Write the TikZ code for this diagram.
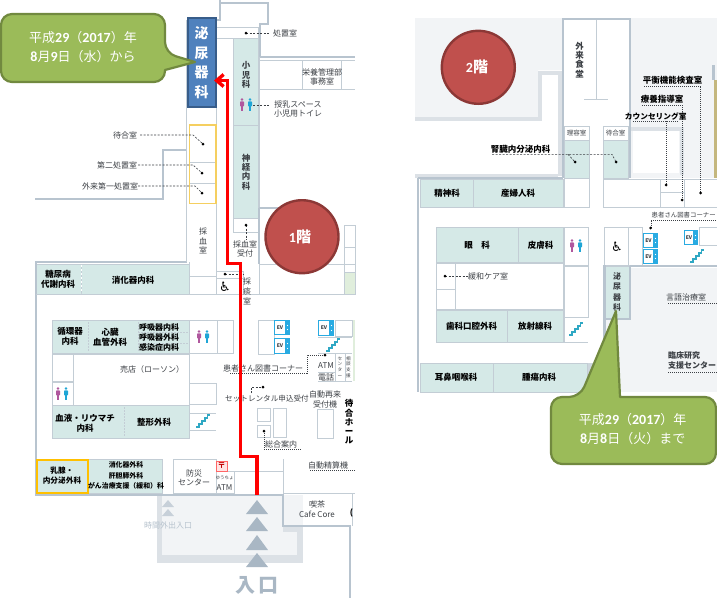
\documentclass[tikz,border=0pt]{standalone}
\usepackage{fontspec}
\setmainfont{Noto Sans CJK JP}
\newfontfamily\latfont{Carlito}
\newfontfamily\symfont{DejaVu Sans}
\usetikzlibrary{arrows.meta}
\definecolor{teal1}{HTML}{D5E9E7}
\definecolor{wallc}{HTML}{B8C4CF}
\definecolor{wallb}{HTML}{A9B7C4}
\definecolor{roomc}{HTML}{C3CDD5}
\definecolor{bandc}{HTML}{DCE1E6}
\definecolor{grayf}{HTML}{F2F4F6}
\definecolor{txtc}{HTML}{3C4045}
\definecolor{oliv}{HTML}{9BBB59}
\definecolor{olivd}{HTML}{71893F}
\definecolor{blu}{HTML}{4F81BD}
\definecolor{blud}{HTML}{385D8A}
\definecolor{rd}{HTML}{C0504D}
\definecolor{rdd}{HTML}{8C3836}
\definecolor{evc}{HTML}{29ABE2}
\definecolor{orng}{HTML}{FFC000}
\definecolor{orng2}{HTML}{F5CF60}
\definecolor{wm}{HTML}{B0589E}
\definecolor{mn}{HTML}{1FA6D6}
\definecolor{stc}{HTML}{2FA8C4}
\definecolor{grnr}{HTML}{E0EEDC}
\definecolor{khak}{HTML}{C4B77E}
\tikzset{
 x=1pt,y=-1pt,
 lab/.style={inner sep=0pt,align=center,text=txtc,font=\fontsize{8}{9.6}\selectfont},
 labb/.style={lab,text=black,font=\fontsize{8.5}{10}\bfseries\selectfont},
 vlab/.style={lab,font=\fontsize{8.5}{9.3}\bfseries\selectfont},
 room/.style={draw=roomc,line width=0.9pt},
 tealroom/.style={draw=roomc,line width=0.9pt,fill=teal1},
 wall/.style={draw=wallc,line width=2.8pt,line join=miter},
 band/.style={draw=bandc,line width=4pt},
 lead/.style={draw=txtc,line width=0.6pt,dash pattern=on 2pt off 1.5pt},
 dots/.style={draw=txtc,line width=0.6pt,dash pattern=on 1pt off 1pt},
 callout/.style={draw=olivd,line width=2.2pt,fill=oliv,line join=round},
 floorc/.style={draw=rdd,line width=2.4pt,fill=rd},
 whitelab/.style={inner sep=0pt,align=center,text=white,font=\fontsize{13}{19}\selectfont},
 tri/.style={fill=wallb,draw=none},
 trismall/.style={fill=wallb!65,draw=none}
}
\newcounter{nd}
\newcommand{\lb}[3]{\stepcounter{nd}\node[lab] (t\thend) at (#1,#2) {#3};}
\newcommand{\lbb}[3]{\stepcounter{nd}\node[labb] (t\thend) at (#1,#2) {#3};}
\newcommand{\vl}[3]{\stepcounter{nd}\node[vlab] (t\thend) at (#1,#2) {#3};}
\newcommand{\rbox}[4]{\draw[room] (#1,#2) rectangle (#3,#4);}
\newcommand{\tbox}[4]{\draw[tealroom] (#1,#2) rectangle (#3,#4);}
\newcommand{\dotp}[2]{\fill[black] (#1,#2) circle (1.5);}
\newcommand{\pers}[3]{\fill[#3] (#1,#2-5.5) circle (1.4);\fill[#3,rounded corners=0.8pt] (#1-2,#2-3.6) rectangle (#1+2,#2+1.5);\fill[#3] (#1-1.3,#2+1) rectangle (#1+1.3,#2+6);}
\newcommand{\toil}[2]{\pers{#1-4}{#2}{wm}\pers{#1+4}{#2}{mn}}
\newcommand{\ev}[4]{\fill[evc] (#1,#2) rectangle (#3,#4);\fill[white] (#1+1.3,#2+1.3) rectangle (#3-5,#4-1.3);
 \fill[white] (#3-2.5,#2+5.5) circle (0.7);\fill[white] (#3-2.5,#4-5.5) circle (0.7);
 \stepcounter{nd}\node[inner sep=0pt,text=txtc,font=\fontsize{5}{6}\bfseries\selectfont] (t\thend) at (#1/2+#3/2-2,#2/2+#4/2) {EV};}
\newcommand{\stair}[2]{\draw[stc,line width=1.3pt] (#1-7,#2+6)--(#1-4,#2+6)--(#1-4,#2+3)--(#1-1,#2+3)--(#1-1,#2)--(#1+2,#2)--(#1+2,#2-3)--(#1+4.5,#2-3)--(#1+4.5,#2-6)--(#1+7,#2-6);}
\newcommand{\wh}[2]{\stepcounter{nd}\node[inner sep=0pt,text=black,font=\symfont\fontsize{13}{13}\selectfont] (t\thend) at (#1,#2) {♿};}
\newcommand{\dg}[1]{{\latfont\fontsize{14}{14}\bfseries\selectfont #1}}
\begin{document}
\begin{tikzpicture}
\useasboundingbox (0,0) rectangle (717,598);
\fill[white] (0,0) rectangle (717,598);

%%% ---------- left panel: first floor ----------
% entrance forecourt
\fill[grayf] (157,495) rectangle (303,563);
\fill[bandc] (157,495) rectangle (162,563);
\fill[bandc] (157,555) rectangle (303,563);
\fill[bandc] (297,530) rectangle (303,563);
\fill[bandc] (283,526) rectangle (303,532);
% teal rooms
\tbox{36}{264}{81}{294}
\tbox{81}{264}{189}{294}
\draw[white,line width=1pt,dash pattern=on 2pt off 2pt] (81,265)--(81,293);
\tbox{233}{38}{258}{125}
\tbox{233}{125}{258}{218}
\tbox{52}{320}{189}{353}
\draw[roomc,line width=0.5pt,dash pattern=on 1.5pt off 1.5pt] (88,322)--(88,352) (138,322)--(138,352) (138,332)--(188,332) (138,343)--(188,343);
\tbox{52}{405}{189}{438}
\draw[roomc,line width=0.5pt,dash pattern=on 1.5pt off 1.5pt] (124,407)--(124,436);
\tbox{88}{459}{162}{493}
% walls top
\draw[wall] (220,0)--(220,3)--(268,3)--(268,24)--(260,24)--(260,57)--(355,57);
\draw[wall] (220,3)--(220,20)--(216,20);
\draw[wall] (35,199)--(163,199)--(163,150)--(187,150);
\draw[wall] (35,262)--(187,262);
\draw[room,line width=1.6pt] (186.5,20)--(186.5,262);
\draw[wall] (36,262)--(36,495);
\draw[room] (259,57)--(259,208);
\draw[wall] (259,208)--(259,264);
\draw[wall] (259,208)--(300,208);
\draw[wall] (35,495)--(283,495)--(283,526)--(350,526)--(350,598);
% rooms near corridor
\rbox{216}{27}{258}{38}
\draw[room] (216,27)--(216,294);
\draw[room] (233,218)--(233,232)--(258,232);
\draw[room] (189,276)--(216,276) (189,262)--(189,294);
\rbox{216}{271}{243}{294}
\draw[room] (216,278)--(243,278);
\draw[room] (36,294)--(259,294);
\draw[room] (259,60)--(355,60) (259,89)--(355,89) (302,60)--(302,89) (341,60)--(341,89);
\rbox{259}{264}{355}{294}
\rbox{344}{225}{355}{247}
\rbox{344}{247}{355}{272}
\draw[tealroom,fill=grnr] (344,272) rectangle (355,294);
% orange bordered rooms
\draw[draw=roomc,line width=0.8pt] (189.5,162)--(216,162) (189.5,183)--(216,183);
\draw[draw=orng2,line width=1.2pt] (189.5,125) rectangle (216,203.5);
% lower block
\rbox{189}{320}{217}{353}
\rbox{217}{320}{233}{353}
\rbox{52}{354}{189}{405}
\rbox{52}{354}{73}{381}
\rbox{52}{382}{73}{405}
\rbox{189}{383}{216}{404}
\draw[room] (189,413)--(216,413) (189,430)--(216,430);
\rbox{173}{459}{216}{493}
\rbox{216}{471}{234}{493}
\draw[room] (234,471)--(283,471) (283,459)--(283,493) (283,493)--(355,493) (352,493)--(352,526);
\draw[draw=red!60,line width=0.9pt,fill=red!10] (216,461) rectangle (227,471);
\stepcounter{nd}\node[inner sep=0pt,text=red!75!black,font=\fontsize{8}{8}\bfseries\selectfont] (t\thend) at (221.5,466) {〒};
\rbox{258}{320}{274}{354}
\ev{274}{320}{290}{335}
\ev{274}{338}{290}{354}
\rbox{335}{320}{352}{336}
\ev{318}{320}{334}{336}
\draw[room] (318,337)--(352,337) (318,353)--(352,353) (318,372)--(335,372) (318,381)--(352,381) (335,353)--(335,381) (345,353)--(345,381);
\fill[grnr] (352.5,320) rectangle (355,381);
\stair{333}{345}
\stair{203}{421}
\rbox{257}{408}{270}{421}
\rbox{257}{425}{270}{437}
\rbox{273}{408}{286}{437}
\rbox{317}{409}{333}{438}
% triangles
\foreach \ya/\yb in {500/514,517/531,535/550,553/567}{\fill[tri] (257,\ya)--(268,\yb)--(246,\yb)--cycle;}
\foreach \ya/\yb in {500/507,509/516}{\fill[trismall] (168,\ya)--(174,\yb)--(162,\yb)--cycle;}
% leaders
\draw[lead] (140,135)--(193,135)--(203,144);\dotp{203}{144}
\draw[lead] (138,165)--(193,165)--(202,173);\dotp{202}{173}
\draw[lead] (138,186)--(195,186)--(202,193);\dotp{202}{193}
\draw[lead] (246,33)--(270,33);\dotp{246}{33}
\draw[lead] (246,225)--(246,240);\dotp{246}{225}
\draw[lead] (225,274)--(243,274);\dotp{225}{274}
\draw[lead] (253,105)--(270,105);
\draw[dots] (230,373)--(307,373)--(307,355)--(325,355);\dotp{325}{355}
\draw[lead] (251,393)--(251,387)--(263,387);\dotp{263}{387}
\draw[dots] (264,431)--(264,449)--(302,449);\dotp{264}{431}
\draw[dots] (310,470)--(355,470);
\toil{246}{105}
\toil{203}{337}
\toil{62}{394}
\wh{225}{287}
\draw[draw=orng,line width=2pt,fill=teal1] (37,460) rectangle (88,493);
% labels
\lb{285}{33}{処置室}
\lb{322}{77}{栄養管理部\\事務室}
\lb{298}{109}{授乳スペース\\小児用トイレ}
\lb{125}{135}{待合室}
\lb{117}{165}{第二処置室}
\lb{110}{186}{外来第一処置室}
\vl{246}{75}{小\\児\\科}
\vl{246}{172}{神\\経\\内\\科}
\stepcounter{nd}\node[lab,font=\fontsize{8}{9.5}\selectfont] (t\thend) at (203,241) {採\\血\\室};
\lb{245}{249}{採血室\\受付}
\stepcounter{nd}\node[lab,font=\fontsize{8}{10}\selectfont] (t\thend) at (247,291) {採\\痰\\室};
\lbb{58}{279}{糖尿病\\代謝内科}
\lbb{133}{280}{消化器内科}
\lbb{70}{336}{循環器\\内科}
\lbb{110}{337}{心臓\\血管外科}
\stepcounter{nd}\node[labb,font=\fontsize{8}{10}\bfseries\selectfont] (t\thend) at (159,337) {呼吸器内科\\呼吸器外科\\感染症内科};
\lb{152}{369}{売店（ローソン）}
\lbb{85}{423}{血液・リウマチ\\内科}
\lbb{154}{422}{整形外科}
\stepcounter{nd}\node[labb,font=\fontsize{7.7}{10}\bfseries\selectfont] (t\thend) at (62,476) {乳腺・\\内分泌外科};
\stepcounter{nd}\node[labb,font=\fontsize{6.9}{10.5}\bfseries\selectfont] (t\thend) at (126,475.5) {消化器外科\\肝胆膵外科\\がん治療支援（緩和）科};
\lb{194}{478}{防災\\センター}
\stepcounter{nd}\node[lab,font=\fontsize{4.5}{5}\selectfont] (t\thend) at (224.5,478) {ゆうちょ};
\stepcounter{nd}\node[lab,font=\fontsize{8}{8}\selectfont] (t\thend) at (224.5,487.5) {ATM};
\lb{263}{368}{患者さん図書コーナー}
\lb{326}{366}{ATM}
\lb{326}{377.5}{電話}
\stepcounter{nd}\node[lab,font=\fontsize{4.6}{5.8}\selectfont] (t\thend) at (340,367) {セ\\ン\\タ\\ー};
\stepcounter{nd}\node[lab,font=\fontsize{4.6}{5.8}\selectfont] (t\thend) at (348.5,367) {相\\談\\支\\援};
\stepcounter{nd}\node[lab,font=\fontsize{7.6}{9}\selectfont] (t\thend) at (267,399) {セットレンタル申込受付};
\lb{281}{444}{総合案内}
\lb{325}{399.5}{自動再来\\受付機}
\stepcounter{nd}\node[vlab,text=black,font=\fontsize{8.5}{9.2}\bfseries\selectfont] (t\thend) at (349,422) {待\\合\\ホ\\ー\\ル};
\lb{328}{465}{自動精算機}
\lb{317}{509}{喫茶\\Cafe Core}
\stepcounter{nd}\node[inner sep=0pt,text=black,font=\fontsize{8}{8}\bfseries\selectfont] (t\thend) at (351.5,513) {(};
\stepcounter{nd}\node[lab,text=wallb!85,font=\fontsize{8}{9}\selectfont] (t\thend) at (168,525) {時間外出入口};
\stepcounter{nd}\node[inner sep=0pt,text=wallb,font=\fontsize{20}{20}\bfseries\selectfont] (t\thend) at (257,585) {入\,口};
% blue box
\stepcounter{nd}\node[draw=blud,line width=2pt,fill=blu,minimum width=28pt,minimum height=89pt,inner sep=0pt,text=white,align=center,font=\fontsize{14}{19.5}\bfseries\selectfont] (uro) at (201.5,62.5) {泌\\尿\\器\\科};
% route
\draw[draw=red,line width=3.4pt,line join=miter,-{Straight Barb[length=7pt,width=12pt]}] (257,495)--(257,456.5)--(240.7,456.5)--(240.7,263.5)--(227.5,263.5)--(227.5,80.5)--(214,80.5);
\draw[callout,rounded corners=11pt] (70,14)--(165,14)--(165,53)[sharp corners]--(195,62)--(165,70)[rounded corners=11pt]--(165,82)--(1,82)--(1,14)--cycle;
\stepcounter{nd}\node[whitelab] (c1) at (83,47.5) {平成\dg{29}（\dg{2017}）年\\\dg{8}月\dg{9}日（水）から};
\draw[floorc] (302,236.7) circle (36.5);
\stepcounter{nd}\node[inner sep=0pt,text=white,font=\fontsize{15}{15}\bfseries\selectfont] (f1) at (300,236.5) {\dg{1}階};

%%% ---------- right panel: second floor ----------
\fill[grayf] (415,18)--(562,18)--(562,70)--(538,70)--(538,117)--(415,117)--cycle;
\fill[grayf] (630,18) rectangle (717,178);
\fill[white] (633,131) rectangle (679,173);
\draw[band] (415,119)--(540,119)--(540,73)--(562,73);
\draw[band] (415,175.5)--(558,175.5);
\draw[band] (560,73)--(560,176);
\draw[band] (631,128.5)--(681.5,128.5)--(681.5,175);
\fill[white] (564,19) rectangle (629,178);
\draw[wall] (563,18)--(563,178);
\draw[wall] (630,18)--(630,178);
\draw[wall] (563,19)--(630,19);
\draw[room] (596,20)--(596,99) (584,99)--(608,99);
\draw[wall] (713.5,65)--(713.5,80);
\draw[draw=khak,line width=2.6pt] (715.5,80)--(715.5,178);
\draw[wall] (418,178)--(563,178);
\draw[wall] (418,178)--(418,392);
% upper rooms
\rbox{564}{126}{589}{140}
\tbox{564}{140}{589}{178}
\rbox{603}{126}{628}{140}
\tbox{603}{140}{628}{178}
\tbox{420}{179}{473}{207}
\tbox{473}{179}{563}{207}
\rbox{564}{178}{589}{207}
\rbox{603}{179}{717}{207}
\draw[room] (660,179)--(660,207) (684,179)--(684,207) (660,192)--(684,192);
% lower rooms
\tbox{436}{227}{518}{262}
\tbox{518}{227}{563}{262}
\rbox{564}{227}{588}{265}
\rbox{564}{266}{588}{317}
\rbox{436}{263}{563}{309}
\rbox{436}{263}{455}{289}
\rbox{436}{289}{455}{309}
\tbox{436}{310}{507}{342}
\tbox{507}{310}{563}{342}
\draw[room] (564,318)--(564,342)--(588,342);
\tbox{420}{363}{493}{392}
\tbox{493}{363}{587}{392}
\fill[wallc!70] (588,363) rectangle (597,392);
\rbox{604}{227}{628}{265}
\rbox{628}{227}{642}{265}
\ev{643}{233}{658}{248}
\ev{643}{249}{658}{264}
\ev{684}{230}{698}{245}
\rbox{699}{227}{717}{245}
\stair{697}{256}
\stair{576}{329}
\toil{576}{246}
\wh{617}{247}
% right wing
\fill[grayf] (605,320) rectangle (717,392);
\fill[grayf] (631,268) rectangle (717,320);
\tbox{605}{266}{629.5}{318}
\draw[wall] (630,266)--(717,266);
\draw[wall] (630,266)--(630,319)--(604,319);
\draw[wall] (604.5,265)--(604.5,392);
% leaders
\draw[dots] (644,86)--(700.7,86)--(700.7,193);\dotp{700.7}{193}
\draw[dots] (642,105)--(682,105)--(682,200);\dotp{682}{200}
\draw[dots] (633,121)--(678,121);
\draw[dots] (666,121)--(666,185);\dotp{666}{185}
\draw[lead] (492,154.3)--(612,154.3)--(616,162);\dotp{616}{162}
\draw[lead] (568,154.3)--(575,162);\dotp{575}{162}
\draw[lead] (445,276)--(468,276);\dotp{445}{276}
\draw[dots] (651,228)--(651,220)--(717,220);\dotp{650.5}{228}
\draw[dots] (668,303)--(717,303);
\draw[dots] (668,372)--(717,372);
% labels
\vl{579.5}{60}{外\\来\\食\\堂}
\stepcounter{nd}\node[lab,font=\fontsize{6.5}{8}\selectfont] (t\thend) at (576.5,133) {理容室};
\stepcounter{nd}\node[lab,font=\fontsize{6.5}{8}\selectfont] (t\thend) at (615.5,133) {待合室};
\lbb{520.7}{149}{腎臓内分泌内科}
\lbb{672.7}{80}{平衡機能検査室}
\lbb{662}{99}{療養指導室}
\stepcounter{nd}\node[labb,font=\fontsize{7.7}{9}\bfseries\selectfont] (t\thend) at (655.7,116) {カウンセリング室};
\lbb{447}{193.5}{精神科}
\lbb{518}{193.5}{産婦人科}
\stepcounter{nd}\node[lab,anchor=west,font=\fontsize{6.4}{8}\selectfont] (t\thend) at (651.5,215.5) {患者さん図書コーナー};
\lbb{477}{245}{眼\quad 科}
\lbb{540.5}{245}{皮膚科}
\lb{488}{276}{緩和ケア室}
\lbb{471.5}{326}{歯科口腔外科}
\lbb{535}{326}{放射線科}
\lbb{456}{377}{耳鼻咽喉科}
\lbb{539}{377}{腫瘍内科}
\stepcounter{nd}\node[vlab,font=\fontsize{8}{10.2}\bfseries\selectfont] (t\thend) at (617,292) {泌\\尿\\器\\科};
\lb{686}{297}{言語治療室}
\stepcounter{nd}\node[lab,align=left,anchor=west,font=\fontsize{8}{9.3}\bfseries\selectfont] (t\thend) at (668,360.5) {臨床研究\\支援センター};
% callout 2
\draw[callout,rounded corners=11pt] (640,397)--(716,397)--(716,464)--(551,464)--(551,397)--(580,397)[sharp corners]--(616,311)--(620,397)[rounded corners=11pt]--cycle;
\stepcounter{nd}\node[whitelab] (c2) at (632.7,429.5) {平成\dg{29}（\dg{2017}）年\\\dg{8}月\dg{8}日（火）まで};
\draw[floorc] (478.3,67.3) circle (36.5);
\stepcounter{nd}\node[inner sep=0pt,text=white,font=\fontsize{15}{15}\bfseries\selectfont] (f2) at (477,67) {\dg{2}階};
\end{tikzpicture}
\end{document}
